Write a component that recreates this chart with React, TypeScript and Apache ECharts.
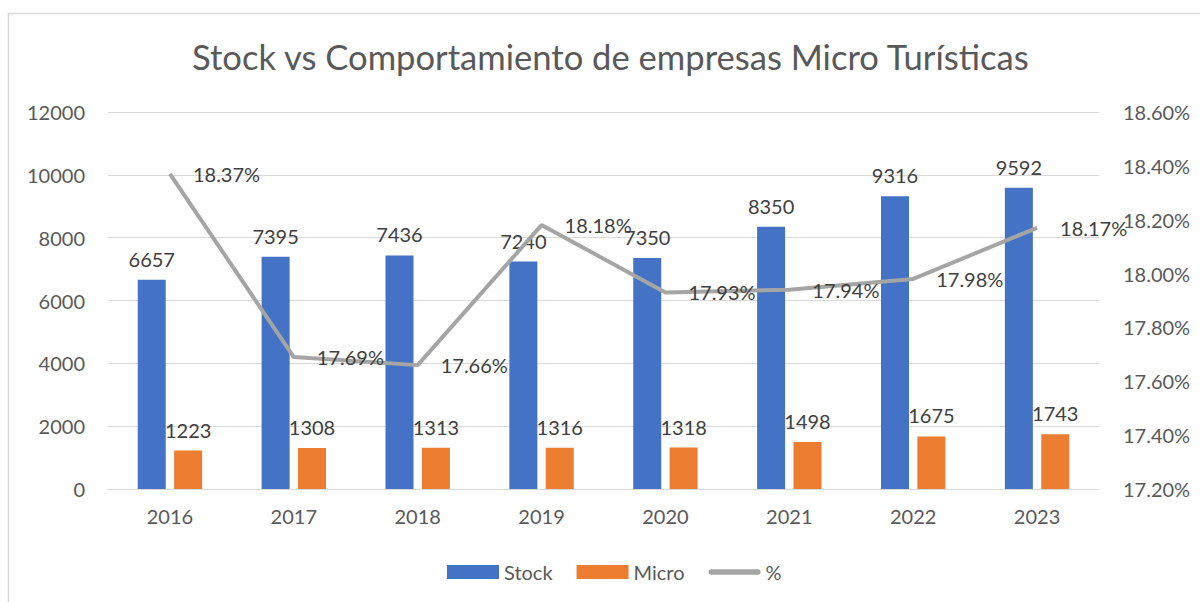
import React, { useEffect, useRef } from "react";
import * as echarts from "echarts";

const categories = ["2016", "2017", "2018", "2019", "2020", "2021", "2022", "2023"];
const stockValues = [6657, 7395, 7436, 7240, 7350, 8350, 9316, 9592];
const microValues = [1223, 1308, 1313, 1316, 1318, 1498, 1675, 1743];
const pctValues = [18.37, 17.69, 17.66, 18.18, 17.93, 17.94, 17.98, 18.17];

const FONT = "Lato, 'Open Sans', sans-serif";

export default function App() {
  const ref = useRef<HTMLDivElement>(null);
  useEffect(() => {
    document.body.style.margin = "0";
    const chart = echarts.init(ref.current!, undefined, { renderer: "svg" });
    chart.setOption({
      animation: false,
      backgroundColor: "#ffffff",
      textStyle: { fontFamily: FONT },
      title: {
        text: "Stock vs Comportamiento de empresas Micro Turísticas",
        left: 187,
        top: 34,
        textStyle: { fontFamily: FONT, fontSize: 34.6, fontWeight: "normal", color: "#595959" },
      },
      graphic: [
        {
          type: "rect",
          shape: { x: 8.5, y: 13.5, width: 1300, height: 700 },
          style: { fill: "none", stroke: "#d9d9d9", lineWidth: 1.5 },
          silent: true,
        },
      ],
      legend: {
        bottom: 15,
        left: 442,
        itemWidth: 52,
        itemHeight: 14,
        itemGap: 24,
        symbolKeepAspect: true,
        textStyle: { fontFamily: FONT, fontSize: 20, color: "#595959" },
        data: [
          { name: "Stock", icon: "rect" },
          { name: "Micro", icon: "rect" },
          {
            name: "%",
            icon: "path://M3,0 L55,0 A3,3 0 0 1 55,6 L3,6 A3,3 0 0 1 3,0 Z",
            itemStyle: { color: "#a5a5a5", opacity: 1 },
          },
        ],
      },
      grid: { left: 108, right: 101, top: 112, bottom: 113 },
      xAxis: {
        type: "category",
        data: categories,
        axisTick: { show: false },
        axisLine: { lineStyle: { color: "#d9d9d9" } },
        axisLabel: { fontFamily: FONT, fontSize: 20, color: "#595959", margin: 17 },
      },
      yAxis: [
        {
          type: "value",
          min: 0,
          max: 12000,
          interval: 2000,
          axisLine: { show: false },
          axisTick: { show: false },
          splitLine: { lineStyle: { color: "#d9d9d9" } },
          axisLabel: {
            fontFamily: FONT,
            fontSize: 20,
            color: "#595959",
            margin: 23,
            formatter: (v: number) => String(v),
          },
        },
        {
          type: "value",
          min: 17.2,
          max: 18.6,
          interval: 0.2,
          axisLine: { show: false },
          axisTick: { show: false },
          splitLine: { show: false },
          axisLabel: {
            fontFamily: FONT,
            fontSize: 20,
            color: "#595959",
            margin: 24,
            formatter: (v: number) => v.toFixed(2) + "%",
          },
        },
      ],
      series: [
        {
          name: "Stock",
          type: "bar",
          data: stockValues,
          barWidth: 28,
          barGap: "30%",
          itemStyle: { color: "#4472c4" },
          label: { show: true, position: "top", distance: 11, fontFamily: FONT, fontSize: 20, color: "#404040" },
        },
        {
          name: "Micro",
          type: "bar",
          data: microValues,
          barWidth: 28,
          barGap: "30%",
          itemStyle: { color: "#ed7d31" },
          label: { show: true, position: "top", distance: 11, fontFamily: FONT, fontSize: 20, color: "#404040" },
        },
        {
          name: "%",
          type: "line",
          yAxisIndex: 1,
          data: pctValues,
          symbol: "circle",
          symbolSize: 2,
          showSymbol: true,
          lineStyle: { color: "#a5a5a5", width: 4 },
          itemStyle: { color: "rgba(165,165,165,0)", borderWidth: 0 },
          label: {
            show: true,
            position: "right",
            distance: 22,
            fontFamily: FONT,
            fontSize: 20,
            color: "#404040",
            formatter: (p: any) => p.value.toFixed(2) + "%",
          },
        },
      ],
    });
    return () => chart.dispose();
  }, []);
  return <div ref={ref} style={{ width: 1200, height: 602 }} />;
}
